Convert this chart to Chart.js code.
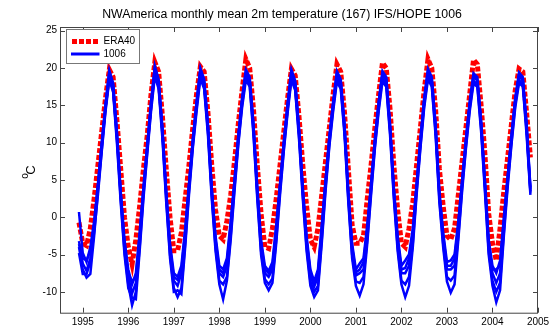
<!DOCTYPE html>
<html>
<head>
<meta charset="utf-8">
<script src="https://cdn.jsdelivr.net/npm/chart.js@4.4.0/dist/chart.umd.min.js"></script>
<style>
  html, body { margin: 0; padding: 0; background: #fff; }
  canvas { display: block; }
</style>
</head>
<body>
<canvas id="tempChart" width="554" height="329"></canvas>
<script>
// monthly means, Nov 1994 .. Oct 2004 (rows = Jan..Dec of each year)
const firstYear = 1994;
const firstMonth = 11;

const era40 = [
  -0.7, -3.5,
  -3.8, -1.5, 2.5, 7, 11.5, 16, 19.8, 18.8, 13, 6.5, 0, -4,
  -6.3, -3, 1.5, 6.5, 11, 16.5, 20.8, 19.5, 13.5, 6.5, 0, -4.5,
  -4.5, -2, 2.5, 7, 12, 16.5, 20.2, 19.5, 14, 7, 1, -2.5,
  -3, -0.5, 3, 7.5, 12.5, 17, 21.2, 20, 14.5, 7, 0.5, -4,
  -4.2, -1.5, 2.5, 7, 11.5, 16, 19.9, 19, 13.5, 7, 1.5, -3,
  -4, -1.5, 3, 7.5, 12, 16.5, 20.5, 19.5, 14, 6.5, -1, -3.5,
  -3.5, -2.5, 2.5, 7, 12, 16.5, 20.7, 20, 14.5, 7, 1, -3.5,
  -4, -1.5, 2, 7, 12, 17, 21.2, 20, 14.5, 6.5, 1.5, -2.5,
  -3, -1.5, 3, 7.5, 12, 16.5, 21.1, 20.5, 15, 8.5, 0.5, -3.5,
  -5.8, -1.5, 3.5, 8, 12.5, 17, 19.9, 19.5, 14, 8
];

// IFS/HOPE 1006 ensemble members
const member1 = [
  0.7, -4.8,
  -6.0, -4.0, -0.5, 4.5, 10.0, 15.2, 19.7, 18.0, 11.5, 3.5, -3.0, -7.0,
  -9.0, -7.5, -2.0, 4.0, 9.8, 15.5, 20.3, 18.5, 12.0, 3.5, -3.5, -7.5,
  -8.0, -6.5, -1.5, 4.5, 10.5, 15.5, 20.0, 18.5, 12.5, 4.0, -2.5, -6.5,
  -7.0, -5.5, -0.5, 5.0, 11.0, 16.0, 19.8, 18.8, 12.5, 4.0, -3.0, -6.5,
  -7.2, -6.0, -1.0, 4.5, 10.2, 15.3, 19.8, 18.3, 12.0, 4.0, -2.5, -7.0,
  -8.6, -7.0, -1.0, 5.0, 10.8, 15.5, 19.6, 18.5, 12.5, 3.5, -3.5, -7.0,
  -6.2, -5.5, -1.0, 4.5, 10.5, 15.5, 19.6, 18.8, 12.5, 4.0, -2.5, -6.5,
  -5.8, -5.0, -1.5, 4.5, 10.5, 16.0, 19.9, 18.8, 12.5, 3.5, -2.0, -6.0,
  -5.8, -5.0, -0.5, 5.0, 10.5, 15.5, 19.3, 18.8, 13.0, 5.0, -3.0, -6.5,
  -7.5, -5.8, 0.0, 5.5, 11.0, 16.0, 19.4, 18.8, 12.5, 4.0
];
const member2 = [
  -3.2, -6.2,
  -7.2, -5.5, -1.5, 4.0, 9.5, 14.8, 19.2, 17.5, 11.0, 3.0, -3.8, -8.0,
  -10.2, -8.8, -3.0, 3.5, 9.3, 15.0, 19.8, 18.0, 11.5, 3.0, -4.2, -8.5,
  -9.2, -7.5, -2.5, 4.0, 10.0, 15.0, 19.5, 18.0, 12.0, 3.5, -3.2, -7.5,
  -8.0, -6.5, -1.5, 4.5, 10.5, 15.5, 19.3, 18.3, 12.0, 3.5, -3.7, -7.5,
  -8.0, -7.0, -2.0, 4.0, 9.7, 14.8, 19.3, 17.8, 11.5, 3.5, -3.2, -7.8,
  -9.3, -8.0, -2.0, 4.5, 10.3, 15.0, 19.1, 18.0, 12.0, 3.0, -4.2, -7.8,
  -7.5, -7.0, -2.0, 4.0, 10.0, 15.0, 19.1, 18.3, 12.0, 3.5, -3.2, -7.5,
  -7.5, -6.5, -2.5, 4.0, 10.0, 15.5, 19.4, 18.3, 12.0, 3.0, -2.8, -7.0,
  -7.0, -6.5, -1.5, 4.5, 10.0, 15.0, 18.8, 18.3, 12.5, 4.5, -3.7, -7.5,
  -8.8, -7.5, -1.0, 5.0, 10.5, 15.5, 18.9, 18.3, 12.0, 3.5
];
const member3 = [
  -4.0, -7.0,
  -8.1, -7.6, -2.5, 3.5, 9.0, 14.5, 18.8, 17.0, 10.5, 2.5, -4.5, -9.0,
  -11.8, -10.0, -4.0, 3.0, 8.8, 14.6, 19.3, 17.5, 11.0, 2.5, -5.0, -9.5,
  -10.7, -9.5, -3.5, 3.5, 9.5, 14.6, 19.0, 17.5, 11.5, 3.0, -4.0, -8.5,
  -9.0, -8.0, -2.5, 4.0, 10.0, 15.1, 18.8, 17.8, 11.5, 3.0, -4.5, -8.3,
  -9.0, -8.2, -3.0, 3.5, 9.2, 14.4, 18.8, 17.3, 11.0, 3.0, -4.0, -8.6,
  -10.0, -9.2, -3.0, 4.0, 9.8, 14.6, 18.6, 17.5, 11.5, 2.5, -5.0, -8.6,
  -8.8, -8.0, -3.0, 3.5, 9.5, 14.6, 18.6, 17.8, 11.5, 3.0, -4.0, -8.5,
  -9.0, -8.0, -3.5, 3.5, 9.5, 15.1, 18.9, 17.8, 11.5, 2.5, -3.5, -8.0,
  -8.5, -7.8, -2.5, 4.0, 9.5, 14.6, 18.3, 17.8, 12.0, 4.0, -4.5, -8.5,
  -10.0, -8.8, -2.0, 4.5, 10.0, 15.1, 18.4, 17.8, 11.5, 3.3
];
const member4 = [
  -4.8, -7.6,
  -7.6, -6.0, -2.0, 3.0, 8.8, 14.2, 18.4, 16.8, 10.0, 2.0, -5.0, -9.5,
  -10.8, -11.0, -4.5, 2.5, 8.5, 14.2, 18.9, 17.2, 10.5, 2.0, -5.5, -10.0,
  -9.8, -10.3, -4.0, 3.0, 9.2, 14.2, 18.6, 17.2, 11.0, 2.5, -4.5, -9.0,
  -11.0, -8.5, -3.0, 3.5, 9.7, 14.7, 18.4, 17.5, 11.0, 2.5, -5.0, -8.8,
  -9.8, -8.8, -3.5, 3.0, 8.9, 14.0, 18.4, 17.0, 10.5, 2.5, -4.5, -9.2,
  -10.7, -9.8, -3.5, 3.5, 9.5, 14.2, 18.2, 17.2, 11.0, 2.0, -5.5, -9.2,
  -10.5, -9.0, -3.5, 3.0, 9.2, 14.2, 18.2, 17.5, 11.0, 2.5, -4.5, -9.0,
  -10.7, -9.2, -4.0, 3.0, 9.2, 14.7, 18.5, 17.5, 11.0, 2.0, -4.0, -8.6,
  -10.1, -9.0, -3.0, 3.5, 9.2, 14.2, 17.9, 17.5, 11.5, 3.5, -5.0, -9.2,
  -11.4, -9.8, -2.5, 4.0, 9.7, 14.7, 18.0, 17.5, 11.0, 3.0
];
const member5 = [
  -3.6, -5.5,
  -5.8, -4.5, -1.0, 4.2, 9.8, 15.0, 19.4, 17.8, 11.2, 3.2, -3.5, -7.5,
  -8.6, -8.0, -2.5, 3.8, 9.5, 15.3, 20.0, 18.2, 11.7, 3.2, -4.0, -8.0,
  -8.4, -7.0, -2.0, 4.3, 10.2, 15.3, 19.7, 18.2, 12.2, 3.7, -3.0, -7.0,
  -7.5, -6.0, -1.0, 4.8, 10.8, 15.8, 19.5, 18.5, 12.2, 3.7, -3.5, -7.0,
  -7.5, -6.5, -1.5, 4.3, 10.0, 15.1, 19.5, 18.0, 11.7, 3.7, -3.0, -7.4,
  -8.8, -7.5, -1.5, 4.8, 10.6, 15.3, 19.3, 18.2, 12.2, 3.2, -4.0, -7.4,
  -7.0, -6.0, -1.5, 4.3, 10.3, 15.3, 19.3, 18.5, 12.2, 3.7, -3.0, -7.0,
  -6.8, -5.5, -2.0, 4.3, 10.3, 15.8, 19.6, 18.5, 12.2, 3.2, -2.5, -6.5,
  -6.5, -5.5, -1.0, 4.8, 10.3, 15.3, 19.0, 18.5, 12.7, 4.7, -3.5, -7.0,
  -7.0, -6.5, -0.5, 5.3, 10.8, 15.8, 19.1, 18.5, 12.2, 3.8
];
const members = [member1, member2, member3, member4, member5];

const titleText = 'NWAmerica monthly mean 2m temperature (167) IFS/HOPE 1006';
const legendLabels = ['ERA40', '1006'];

// month index -> decimal year (Jan = year + 1/12, like the original plot)
function toPoints(values) {
  return values.map((v, i) => ({ x: firstYear + (firstMonth + i) / 12, y: v }));
}

const datasets = [{
  label: legendLabels[0],
  data: toPoints(era40),
  borderColor: '#ff0000',
  borderWidth: 5,
  borderDash: [5, 2],
  borderCapStyle: 'butt',
  pointRadius: 0,
  tension: 0,
  order: 1
}];
members.forEach((m, k) => {
  datasets.push({
    label: k === 0 ? legendLabels[1] : '',
    data: toPoints(m),
    borderColor: '#0000ff',
    borderWidth: 2.5,
    pointRadius: 0,
    tension: 0,
    order: 0
  });
});

const font = 'Liberation Sans, Arial, Helvetica, sans-serif';

// MATLAB style box, inward ticks, title, y label and legend
const matlabFrame = {
  id: 'matlabFrame',
  afterDraw(chart) {
    const { ctx, chartArea: a, scales: { x, y } } = chart;
    ctx.save();
    ctx.strokeStyle = '#444';
    ctx.lineWidth = 1;
    ctx.strokeRect(a.left + 0.5, a.top + 0.5, a.right - a.left - 1, a.bottom - a.top);

    const tl = 5;
    ctx.beginPath();
    x.ticks.forEach(t => {
      const px = Math.round(x.getPixelForValue(t.value)) + 0.5;
      ctx.moveTo(px, a.bottom); ctx.lineTo(px, a.bottom - tl);
      ctx.moveTo(px, a.top); ctx.lineTo(px, a.top + tl);
    });
    y.ticks.forEach(t => {
      const py = Math.round(y.getPixelForValue(t.value)) + 0.5;
      ctx.moveTo(a.left, py); ctx.lineTo(a.left + tl, py);
      ctx.moveTo(a.right, py); ctx.lineTo(a.right - tl, py);
    });
    ctx.stroke();

    // title
    ctx.fillStyle = '#000';
    ctx.font = '12.3px ' + font;
    ctx.textAlign = 'center';
    ctx.textBaseline = 'middle';
    ctx.fillText(titleText, 282, 15);

    // y label: superscript o + C, rotated
    ctx.save();
    ctx.translate(31, 170);
    ctx.rotate(-Math.PI / 2);
    ctx.font = '13px ' + font;
    ctx.fillText('C', 0, 0);
    ctx.font = '10px ' + font;
    ctx.fillText('o', -6, -5.5);
    ctx.restore();

    // legend box
    const lx = 66, ly = 29, lw = 73, lh = 34;
    ctx.fillStyle = '#fff';
    ctx.fillRect(lx, ly, lw, lh);
    ctx.strokeStyle = '#777';
    ctx.strokeRect(lx + 0.5, ly + 0.5, lw, lh);

    ctx.lineCap = 'butt';
    ctx.strokeStyle = '#ff0000';
    ctx.lineWidth = 5;
    ctx.setLineDash([5, 2]);
    ctx.beginPath(); ctx.moveTo(72, 41.5); ctx.lineTo(100, 41.5); ctx.stroke();
    ctx.setLineDash([]);
    ctx.strokeStyle = '#0000ff';
    ctx.lineWidth = 3;
    ctx.beginPath(); ctx.moveTo(71, 54); ctx.lineTo(99.5, 54); ctx.stroke();

    ctx.fillStyle = '#000';
    ctx.font = '10px ' + font;
    ctx.textAlign = 'left';
    ctx.fillText(legendLabels[0], 103.5, 41.5);
    ctx.fillText(legendLabels[1], 103.5, 54.5);
    ctx.restore();
  }
};

new Chart(document.getElementById('tempChart'), {
  type: 'line',
  data: { datasets },
  options: {
    responsive: false,
    animation: false,
    devicePixelRatio: 1,
    layout: { padding: { top: 27, right: 16, left: 0, bottom: 0 } },
    plugins: { legend: { display: false }, title: { display: false }, tooltip: { enabled: false } },
    scales: {
      x: {
        type: 'linear',
        min: 1994.5,
        max: 2005,
        grid: { display: false, drawTicks: false },
        border: { display: false },
        ticks: {
          stepSize: 1,
          includeBounds: false,
          autoSkip: false,
          maxRotation: 0,
          padding: 4,
          color: '#000',
          font: { family: font, size: 10 },
          callback: v => String(v)
        },
        afterFit: s => { s.height = 16.3; }
      },
      y: {
        min: -12.8,
        max: 25.5,
        grid: { display: false, drawTicks: false },
        border: { display: false },
        ticks: {
          stepSize: 5,
          includeBounds: false,
          padding: 3,
          color: '#000',
          font: { family: font, size: 10 },
          callback: v => String(v)
        },
        afterFit: s => { s.width = 60; }
      }
    }
  },
  plugins: [matlabFrame]
});
</script>
</body>
</html>
